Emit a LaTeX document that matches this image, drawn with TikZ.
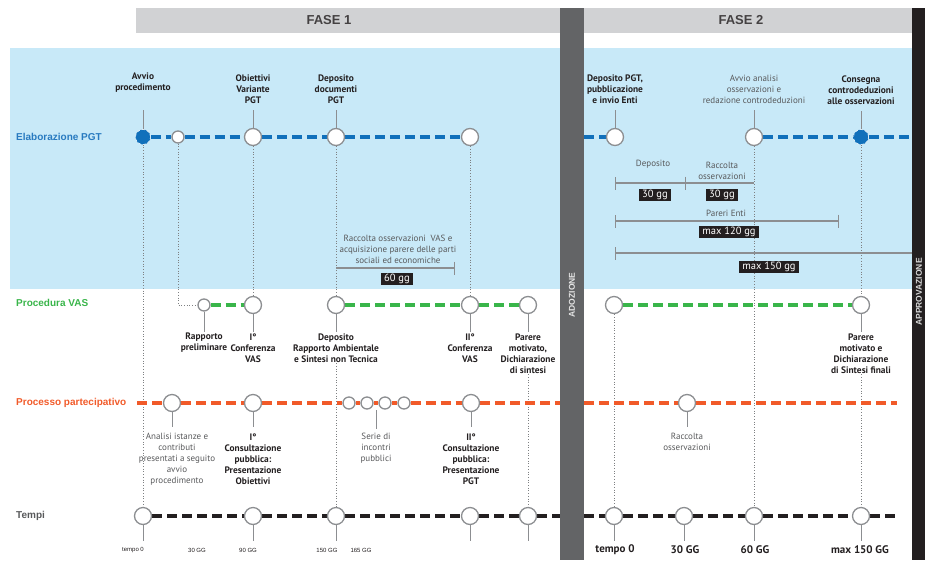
\documentclass[tikz,border=0pt]{standalone}
\usepackage{fontspec}
\setmainfont{Liberation Sans}
\newfontfamily\lblfont{PT Sans}
\usetikzlibrary{positioning,arrows.meta}
\definecolor{bandblue}{RGB}{200,233,248}
\definecolor{headgrey}{RGB}{209,210,212}
\definecolor{adozgrey}{RGB}{99,100,102}
\definecolor{approvblack}{RGB}{35,31,32}
\definecolor{pgtblue}{RGB}{16,112,187}
\definecolor{rowblue}{RGB}{40,122,192}
\definecolor{vasgreen}{RGB}{57,181,74}
\definecolor{partorange}{RGB}{241,90,41}
\definecolor{inkdark}{RGB}{35,31,32}
\definecolor{textgrey}{RGB}{88,89,91}
\definecolor{ringgrey}{RGB}{140,142,145}
\pgfdeclarelayer{bg}
\pgfdeclarelayer{guides}
\pgfdeclarelayer{lines}
\pgfdeclarelayer{top}
\pgfsetlayers{bg,guides,lines,main,top}
\tikzset{
  ring/.style={circle,draw=ringgrey,line width=1.3pt,fill=white,minimum size=17pt,inner sep=0pt},
  smallring/.style={ring,minimum size=12pt},
  keydot/.style={circle,fill=pgtblue,draw=white,densely dashed,line width=0.5pt,minimum size=15pt,inner sep=0pt},
  pgtline/.style={draw=pgtblue,line width=3.6pt,dash pattern=on 10pt off 5pt},
  vasline/.style={draw=vasgreen,line width=3.6pt,dash pattern=on 10pt off 5pt},
  partline/.style={draw=partorange,line width=3.6pt,dash pattern=on 10pt off 5pt},
  timeline/.style={draw=inkdark,line width=3.6pt,dash pattern=on 10pt off 5pt},
  stem/.style={draw=ringgrey,line width=1pt},
  guide/.style={draw=ringgrey!90!black,line width=0.7pt,dotted},
  span/.style={draw=ringgrey,line width=1.2pt},
  boldlbl/.style={font=\lblfont\bfseries\fontsize{9.4}{11}\selectfont,text=inkdark,align=center,inner sep=1pt},
  plainlbl/.style={font=\lblfont\fontsize{9}{11}\selectfont,text=textgrey,align=center,inner sep=1pt},
  rowlbl/.style={font=\bfseries\fontsize{10}{12}\selectfont,anchor=west,inner sep=0pt},
  phasetitle/.style={font=\bfseries\fontsize{13}{15}\selectfont,text=inkdark!85},
  daybox/.style={fill=inkdark,text=white,font=\lblfont\fontsize{10.5}{12}\selectfont,inner xsep=3.5pt,inner ysep=1.5pt},
  daysmall/.style={font=\fontsize{6}{7}\selectfont,text=inkdark},
  daybig/.style={font=\lblfont\bfseries\fontsize{11}{13}\selectfont,text=inkdark},
  barlbl/.style={font=\bfseries\fontsize{8.5}{10}\selectfont,rotate=90}
}
\begin{document}
\begin{tikzpicture}[x=1pt,y=-1pt]
  \useasboundingbox (0,0) rectangle (925,560);
  \begin{pgfonlayer}{bg}
    \fill[headgrey] (136,8) rectangle (560,33);
    \fill[headgrey] (584,8) rectangle (912,33);
    \fill[bandblue] (10,48) rectangle (912,289);
  \end{pgfonlayer}
  \node[phasetitle] (fase1) at (329,20) {FASE 1};
  \node[phasetitle] (fase2) at (741,20) {FASE 2};

  \node[rowlbl,text=rowblue] (rowpgt) at (16,137) {Elaborazione PGT};
  \node[rowlbl,text=vasgreen] (rowvas) at (16,303) {Procedura VAS};
  \node[rowlbl,text=partorange] (rowpart) at (16,403) {Processo partecipativo};
  \node[rowlbl,text=textgrey] (rowtempi) at (16,516) {Tempi};

  \node[keydot] (e1) at (143,137) {};
  \node[smallring] (e2) at (178,137) {};
  \node[ring] (e3) at (253,137) {};
  \node[ring] (e4) at (336,137) {};
  \node[ring] (e5) at (470,137) {};
  \node[ring] (e6) at (615,137) {};
  \node[ring] (e7) at (754,137) {};
  \node[keydot] (e8) at (861,137) {};
  \coordinate (e6in) at (584,137);
  \coordinate (e8out) at (912,137);

  \node[smallring] (v1) at (204,305) {};
  \node[ring] (v2) at (253,305) {};
  \node[ring] (v3) at (336,305) {};
  \node[ring] (v4) at (470,305) {};
  \node[ring] (v5) at (528,305) {};
  \node[ring] (v6) at (614,305) {};
  \node[ring] (v7) at (861,305) {};

  \node[ring] (p1) at (172,403) {};
  \node[ring] (p2) at (253,403) {};
  \node[smallring] (p3a) at (349,403) {};
  \node[smallring] (p3b) at (367,403) {};
  \node[smallring] (p3c) at (385,403) {};
  \node[smallring] (p3d) at (404,403) {};
  \node[ring] (p4) at (471,403) {};
  \node[ring] (p5) at (687,403) {};
  \coordinate (p0) at (137,403);
  \coordinate (p4out) at (560,403);
  \coordinate (p5in) at (584,403);
  \coordinate (p5out) at (897,403);

  \node[ring] (t1) at (143,516) {};
  \node[ring] (t2) at (253,516) {};
  \node[ring] (t3) at (336,516) {};
  \node[ring] (t4) at (470,516) {};
  \node[ring] (t5) at (528,516) {};
  \node[ring] (t6) at (614,516) {};
  \node[ring] (t7) at (684,516) {};
  \node[ring] (t8) at (754,516) {};
  \node[ring] (t9) at (861,516) {};
  \coordinate (t5out) at (560,516);
  \coordinate (t6in) at (584,516);
  \coordinate (t9out) at (897,516);

  \node[boldlbl,above=36pt of e1] (e1t) {Avvio\\procedimento};
  \node[boldlbl,above=23pt of e3] (e3t) {Obiettivi\\Variante\\PGT};
  \node[boldlbl,above=23pt of e4] (e4t) {Deposito\\documenti\\PGT};
  \node[boldlbl,above=23pt of e6] (e6t) {Deposito PGT,\\pubblicazione\\e invio Enti};
  \node[plainlbl,above=23pt of e7] (e7t) {Avvio analisi\\osservazioni e\\redazione controdeduzioni};
  \node[boldlbl,above=23pt of e8] (e8t) {Consegna\\controdeduzioni\\alle osservazioni};
  \foreach \n/\g in {e1/17pt,e3/5pt,e4/5pt,e6/5pt,e7/5pt,e8/5pt}
    \draw[stem,shorten >=\g] (\n.north) -- (\n.north |- \n t.south);

  \node[boldlbl,below=20pt of v1] (v1t) {Rapporto\\preliminare};
  \node[boldlbl,below=18pt of v2] (v2t) {I°\\Conferenza\\VAS};
  \node[boldlbl,below=18pt of v3] (v3t) {Deposito\\Rapporto Ambientale\\e Sintesi non Tecnica};
  \node[boldlbl,below=18pt of v4] (v4t) {II°\\Conferenza\\VAS};
  \node[boldlbl,below=18pt of v5] (v5t) {Parere\\motivato,\\Dichiarazione\\di sintesi};
  \node[boldlbl,below=18pt of v7] (v7t) {Parere\\motivato e\\Dichiarazione\\di Sintesi finali};
  \foreach \n in {v1,v2,v3,v4,v5,v7}
    \draw[stem] (\n.south) -- (\n.south |- \n t.north);

  \node[plainlbl,below=20pt of p1,xshift=5pt] (p1t) {Analisi istanze e\\contributi\\presentati a seguito\\avvio\\procedimento};
  \node[boldlbl,below=20pt of p2] (p2t) {I°\\Consultazione\\pubblica:\\Presentazione\\Obiettivi};
  \node[plainlbl,below=22pt of p3b,xshift=9pt] (p3t) {Serie di\\incontri\\pubblici};
  \node[boldlbl,below=20pt of p4] (p4t) {II°\\Consultazione\\pubblica:\\Presentazione\\PGT};
  \node[plainlbl,below=20pt of p5] (p5t) {Raccolta\\osservazioni};
  \foreach \n in {p1,p2,p4,p5}
    \draw[stem,shorten >=5pt] (\n.south) -- (\n.south |- \n t.north);
  \draw[stem,shorten <=3pt] (p3t.north) -- (p3t.north |- p3b.south);

  \foreach \i in {1,...,9}{
    \coordinate (t\i e) at ([yshift=-16pt]t\i.south);
    \draw[stem] (t\i) -- (t\i e);
  }
  \node[daysmall] (d0) at (133,550) {tempo 0};
  \node[daysmall] (d30) at (197,550) {30 GG};
  \node[daysmall] (d90) at (248,550) {90 GG};
  \node[daysmall] (d150) at (327,550) {150 GG};
  \node[daysmall] (d165) at (361,550) {165 GG};
  \node[daybig] (f0) at (615,550) {tempo 0};
  \node[daybig] (f30) at (685,550) {30 GG};
  \node[daybig] (f60) at (755,550) {60 GG};
  \node[daybig] (f150) at (860,550) {max 150 GG};

  \coordinate (s1a) at (336,268);
  \coordinate (s1b) at (455,268);
  \draw[span,-{Bar[width=13pt]}] (s1a) -- (s1b);
  \node[plainlbl,anchor=south] (s1t) at (398,265) {Raccolta osservazioni\ \ VAS e\\acquisizione parere delle parti\\sociali ed economiche};
  \node[daybox] (s1d) at (397,279) {60 gg};

  \coordinate (s2a) at (615,183);
  \coordinate (s2m) at (686,183);
  \coordinate (s2b) at (754,183);
  \draw[span,{Bar[width=13pt]}-{Bar[width=13pt]}] (s2a) -- (s2m);
  \draw[span] (s2m) -- (s2b);
  \node[plainlbl] (s2t) at (653,164) {Deposito};
  \node[plainlbl,anchor=south] (s2u) at (722,181) {Raccolta\\osservazioni};
  \node[daybox] (s2d) at (655,195) {30 gg};
  \node[daybox] (s2e) at (722,195) {30 gg};
  \coordinate (s3a) at (615,221);
  \coordinate (s3b) at (839,221);
  \draw[span,{Bar[width=13pt]}-{Bar[width=13pt]}] (s3a) -- (s3b);
  \node[plainlbl] (s3t) at (726,213) {Pareri Enti};
  \node[daybox] (s3d) at (729,232) {max 120 gg};
  \coordinate (s4a) at (615,253);
  \coordinate (s4b) at (912,253);
  \draw[span,{Bar[width=13pt]}-] (s4a) -- (s4b);
  \node[daybox] (s4d) at (769,267) {max 150 gg};

  \begin{pgfonlayer}{guides}
    \draw[guide] (e1) -- (t1);
    \draw[guide] (e2) |- (v1);
    \draw[guide] (e3) -- (v2);
    \draw[guide] (e4) -- (v3);
    \draw[guide] (v3t) -- (t3);
    \draw[guide] (e5) -- (v4);
    \draw[guide] (v5t) -- (t5);
    \draw[guide] (v6) -- (t6);
    \draw[guide] (e7) -- (t8);
    \draw[guide] (e8) -- (v7);
    \draw[guide] (v7t) -- (t9);
  \end{pgfonlayer}

  \begin{pgfonlayer}{lines}
    \draw[pgtline] (e1) -- (e2) -- (e3) -- (e4) -- (e5);
    \draw[pgtline] (e6in) -- (e6);
    \draw[pgtline] (e7) -- (e8) -- (e8out);
    \draw[vasline] (v1) -- (v2);
    \draw[vasline] (v3) -- (v4) -- (v5);
    \draw[vasline] (v6) -- (v7);
    \draw[partline] (p0) -- (p1) -- (p2) -- (p3a) -- (p3b) -- (p3c) -- (p3d) -- (p4) -- (p4out);
    \draw[partline] (p5in) -- (p5) -- (p5out);
    \draw[timeline] (t1) -- (t2) -- (t3) -- (t4) -- (t5) -- (t5out);
    \draw[timeline] (t6in) -- (t6) -- (t7) -- (t8) -- (t9) -- (t9out);
  \end{pgfonlayer}

  \begin{pgfonlayer}{top}
    \fill[adozgrey] (560,8) rectangle (584,560);
    \node[barlbl,text=white!90!black] (adoz) at (572,295) {ADOZIONE};
    \fill[approvblack] (912,8) rectangle (925,560);
    \node[barlbl,text=white!85!black] (approv) at (919,292) {APPROVAZIONE};
  \end{pgfonlayer}
\end{tikzpicture}
\end{document}
